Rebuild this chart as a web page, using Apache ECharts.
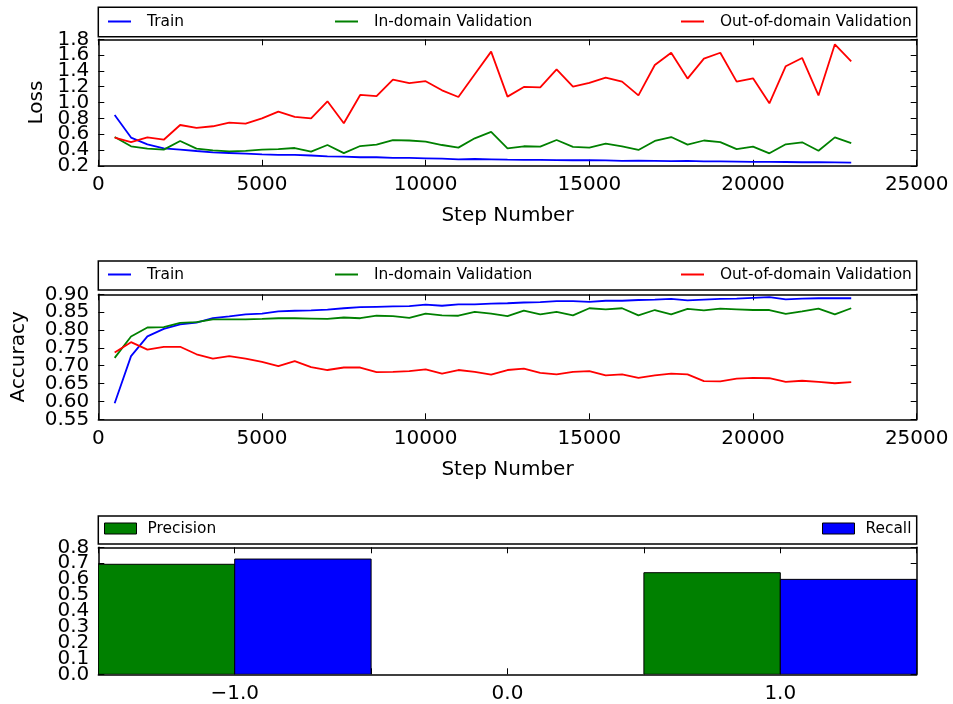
<!DOCTYPE html>
<html>
<head>
<meta charset="utf-8">
<script src="https://cdn.jsdelivr.net/npm/echarts@6/dist/echarts.min.js"></script>
<style>html,body{margin:0;padding:0;background:#fff;}#c{width:953px;height:704px;}</style>
</head>
<body>
<div id="c"></div>
<script>
// ---- data ----
const steps = [500,1000,1500,2000,2500,3000,3500,4000,4500,5000,5500,6000,6500,7000,7500,8000,8500,9000,9500,10000,10500,11000,11500,12000,12500,13000,13500,14000,14500,15000,15500,16000,16500,17000,17500,18000,18500,19000,19500,20000,20500,21000,21500,22000,22500,23000];
const lossTrain = [0.843,0.557,0.472,0.42,0.405,0.387,0.37,0.362,0.354,0.345,0.337,0.337,0.33,0.32,0.317,0.308,0.308,0.30,0.30,0.295,0.29,0.282,0.286,0.282,0.278,0.276,0.274,0.272,0.27,0.27,0.268,0.262,0.264,0.262,0.26,0.262,0.255,0.255,0.253,0.25,0.25,0.248,0.245,0.245,0.244,0.24];
const lossIn = [0.564,0.447,0.417,0.405,0.514,0.417,0.396,0.383,0.39,0.405,0.41,0.425,0.38,0.463,0.36,0.45,0.468,0.526,0.52,0.506,0.463,0.43,0.548,0.628,0.42,0.447,0.443,0.526,0.44,0.43,0.48,0.447,0.40,0.514,0.564,0.468,0.52,0.50,0.41,0.443,0.358,0.472,0.497,0.39,0.56,0.488];
const lossOut = [0.557,0.50,0.56,0.53,0.716,0.68,0.70,0.746,0.734,0.80,0.885,0.82,0.80,1.016,0.738,1.096,1.08,1.29,1.247,1.27,1.155,1.07,1.357,1.644,1.075,1.197,1.193,1.42,1.20,1.25,1.315,1.265,1.09,1.475,1.63,1.303,1.556,1.63,1.265,1.307,0.99,1.46,1.564,1.09,1.737,1.52];
const accTrain = [0.595,0.727,0.782,0.803,0.816,0.821,0.833,0.838,0.844,0.846,0.852,0.854,0.855,0.857,0.861,0.864,0.865,0.866,0.867,0.871,0.868,0.872,0.872,0.874,0.875,0.877,0.878,0.881,0.881,0.879,0.882,0.882,0.884,0.885,0.887,0.883,0.885,0.887,0.888,0.890,0.892,0.886,0.888,0.889,0.889,0.889];
const accIn = [0.722,0.782,0.807,0.808,0.82,0.822,0.83,0.83,0.83,0.831,0.833,0.833,0.832,0.831,0.835,0.833,0.84,0.839,0.834,0.846,0.841,0.84,0.851,0.846,0.839,0.854,0.844,0.851,0.841,0.861,0.858,0.861,0.841,0.856,0.844,0.859,0.855,0.86,0.858,0.856,0.856,0.845,0.852,0.86,0.844,0.861];
const accOut = [0.737,0.766,0.745,0.753,0.753,0.732,0.72,0.727,0.72,0.711,0.699,0.713,0.696,0.688,0.695,0.695,0.682,0.683,0.685,0.69,0.678,0.688,0.683,0.675,0.688,0.692,0.68,0.676,0.683,0.685,0.673,0.676,0.666,0.673,0.678,0.676,0.657,0.656,0.664,0.666,0.665,0.655,0.658,0.655,0.651,0.654];
const classes = [-1, 1];
const precision = [0.693, 0.64];
const recall = [0.726, 0.598];
const lineNames = ['Train', 'In-domain Validation', 'Out-of-domain Validation'];
const barNames = ['Precision', 'Recall'];
const lossTicks = [0.2, 0.4, 0.6, 0.8, 1.0, 1.2, 1.4, 1.6, 1.8];
const accTicks = [0.55, 0.60, 0.65, 0.70, 0.75, 0.80, 0.85, 0.90];
const barYTicks = [0.0, 0.1, 0.2, 0.3, 0.4, 0.5, 0.6, 0.7, 0.8];
const stepTicks = [0, 5000, 10000, 15000, 20000, 25000];
const classTicks = [-1.5, -1.0, -0.5, 0.0, 0.5, 1.0, 1.5];
const classLabels = [-1.0, 0.0, 1.0];

// ---- chart ----
const FONT = 'DejaVu Sans';
const BLUE = '#0000ff', GREEN = '#008000', RED = '#ff0000';
const chart = echarts.init(document.getElementById('c'), null, {renderer: 'canvas'});

const grids = [
  {left: 98.3, right: 36.3, top: 39.3, height: 126.5},
  {left: 98.3, right: 36.3, top: 294.3, height: 125},
  {left: 98.3, right: 36.3, top: 547.3, height: 127}
];
const axisLine = {show: true, onZero: false, lineStyle: {color: '#000', width: 1.5}};
const tickStyle = {color: '#000', width: 1};
const tickOn = (vals) => ({show: true, inside: true, length: 6, lineStyle: tickStyle, customValues: vals});
const nameStyle = {fontFamily: FONT, fontSize: 20, color: '#000'};
const lbl = (vals, fmt) => ({show: true, fontFamily: FONT, fontSize: 20, color: '#000', margin: 9,
  customValues: vals, showMinLabel: true, showMaxLabel: true, hideOverlap: false, formatter: fmt});

function xAxesFor(gi, min, max, ticks, labels, fmt, name) {
  const base = {gridIndex: gi, type: 'value', min, max, splitLine: {show: false}, axisLine, axisTick: tickOn(ticks)};
  return [
    Object.assign({}, base, {position: 'bottom', axisLabel: lbl(labels, fmt),
      name: name || '', nameLocation: 'middle', nameGap: 40, nameTextStyle: nameStyle}),
    Object.assign({}, base, {position: 'top', axisLabel: {show: false}})
  ];
}
// labels split over two left axes (alternating) so none of the crowded labels get dropped
function yAxesFor(gi, min, max, ticks, fmt, name, gap) {
  const base = {gridIndex: gi, type: 'value', min, max, splitLine: {show: false}};
  const even = ticks.filter((_, i) => i % 2 === 0);
  const odd = ticks.filter((_, i) => i % 2 === 1);
  return [
    Object.assign({}, base, {position: 'left', axisLine, axisTick: tickOn(ticks), axisLabel: lbl(even, fmt),
      name: name || '', nameLocation: 'middle', nameGap: gap, nameTextStyle: nameStyle}),
    Object.assign({}, base, {position: 'left', axisLine: {show: false, onZero: false}, axisTick: {show: false},
      axisLabel: lbl(odd, fmt)}),
    Object.assign({}, base, {position: 'right', axisLine, axisTick: tickOn(ticks), axisLabel: {show: false}})
  ];
}
const intFmt = v => String(Math.round(v));
const fix = n => v => (Math.abs(v) < 1e-9 ? 0 : v).toFixed(n);
const barXFmt = v => (v < -1e-9 ? '\u2212' : '') + Math.abs(v).toFixed(1);

const xAxes = [].concat(
  xAxesFor(0, 0, 25000, stepTicks, stepTicks, intFmt, 'Step Number'),
  xAxesFor(1, 0, 25000, stepTicks, stepTicks, intFmt, 'Step Number'),
  xAxesFor(2, -1.5, 1.5, classTicks, classLabels, barXFmt, '')
);
const yAxes = [].concat(
  yAxesFor(0, 0.2, 1.8, lossTicks, fix(1), 'Loss', 52),
  yAxesFor(1, 0.55, 0.90, accTicks, fix(2), 'Accuracy', 70),
  yAxesFor(2, 0, 0.8, barYTicks, fix(1), '', 50)
);

function zip(xs, ys) { return xs.map((x, i) => [x, ys[i]]); }
function lineSeries(name, color, gi, ys) {
  return {name, type: 'line', xAxisIndex: gi * 2, yAxisIndex: gi * 3, data: zip(steps, ys),
    showSymbol: false, symbol: 'none', color, lineStyle: {color, width: 1.8}, animation: false, z: 3};
}
function barSeries(name, color, side, vals) {
  return {name, type: 'custom', xAxisIndex: 4, yAxisIndex: 6, color, itemStyle: {color},
    data: zip(classes, vals), animation: false, clip: true,
    renderItem: function (params, api) {
      const c = api.value(0), v = api.value(1);
      const x0 = side < 0 ? c - 0.5 : c, x1 = side < 0 ? c : c + 0.5;
      const p0 = api.coord([x0, v]);
      const p1 = api.coord([x1, 0]);
      return {type: 'rect', shape: {x: p0[0], y: p0[1], width: p1[0] - p0[0], height: p1[1] - p0[1]},
        style: {fill: color, stroke: '#000', lineWidth: 1}};
    }};
}

const series = [
  lineSeries(lineNames[0], BLUE, 0, lossTrain),
  lineSeries(lineNames[1], GREEN, 0, lossIn),
  lineSeries(lineNames[2], RED, 0, lossOut),
  lineSeries(lineNames[0], BLUE, 1, accTrain),
  lineSeries(lineNames[1], GREEN, 1, accIn),
  lineSeries(lineNames[2], RED, 1, accOut),
  barSeries(barNames[0], GREEN, -1, precision),
  barSeries(barNames[1], BLUE, 1, recall)
];

const legTxt = {fontFamily: FONT, fontSize: 15.4, color: '#000', padding: [0, 0, 0, 11]};
function lineLegend(name, left, top) {
  return {data: [name], left, top, icon: 'rect', itemWidth: 23, itemHeight: 2, selectedMode: false,
    textStyle: legTxt, z: 10, padding: 0};
}
function barLegend(name, left, top) {
  return {data: [name], left, top, icon: 'rect', itemWidth: 32, itemHeight: 11, selectedMode: false,
    itemStyle: {borderColor: '#000', borderWidth: 1},
    textStyle: Object.assign({}, legTxt, {padding: [0, 0, 0, 6]}), z: 10, padding: 0};
}
const legends = [
  lineLegend(lineNames[0], 108, 14), lineLegend(lineNames[1], 335, 14), lineLegend(lineNames[2], 681, 14),
  lineLegend(lineNames[0], 108, 267), lineLegend(lineNames[1], 335, 267), lineLegend(lineNames[2], 681, 267),
  barLegend(barNames[0], 104, 521), barLegend(barNames[1], 822, 521)
];

const boxStyle = {fill: '#fff', stroke: '#000', lineWidth: 1.5};
const graphic = [
  {type: 'rect', z: 0, shape: {x: 98.3, y: 7.3, width: 818.4, height: 29.4}, style: boxStyle},
  {type: 'rect', z: 0, shape: {x: 98.3, y: 261, width: 818.4, height: 29}, style: boxStyle},
  {type: 'rect', z: 0, shape: {x: 98.3, y: 516, width: 818.4, height: 28}, style: boxStyle}
];

chart.setOption({
  animation: false,
  backgroundColor: '#fff',
  textStyle: {fontFamily: FONT},
  grid: grids,
  xAxis: xAxes,
  yAxis: yAxes,
  legend: legends,
  graphic,
  series
});
</script>
</body>
</html>
